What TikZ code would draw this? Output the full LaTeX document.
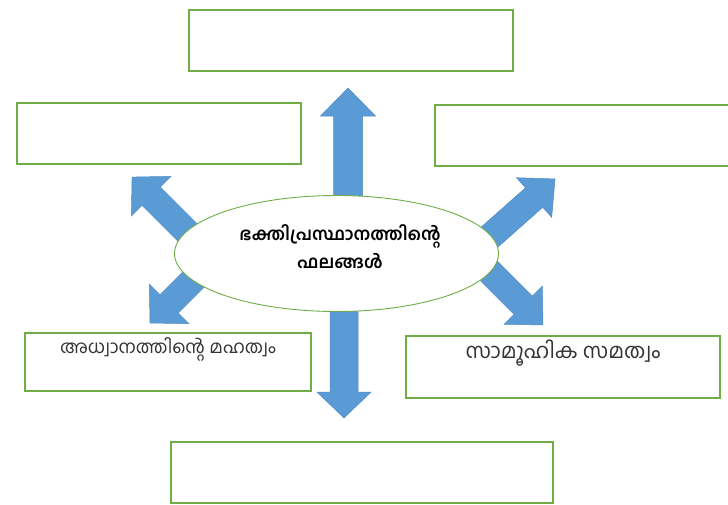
\documentclass[tikz,border=0pt]{standalone}
\usepackage{fontspec}
\newfontfamily\mlfont[Script=Malayalam]{Hind Kochi}
\begin{document}
\begin{tikzpicture}[x=1pt,y=-1pt,
  gbox/.style={draw=boxgreen, line width=1.6pt, fill=white},
  arrowstyle/.style={fill=arrowblue, draw=arrowedge, line width=0.5pt, line join=miter},
  lbl/.style={font=\mlfont\fontsize{18}{20}\selectfont, text=black!80}]
\definecolor{boxgreen}{HTML}{70AD47}
\definecolor{arrowblue}{HTML}{5B9BD5}
\definecolor{arrowedge}{HTML}{4F8BC4}
\useasboundingbox (0,0) rectangle (728,504);
\newcommand\blockarrow[8]{% x y angle length shaftw headw headl
  \begin{scope}[shift={(#1,#2)}, rotate=#3, y=1pt]
    \path[arrowstyle] (0,-#5/2) -- (#4-#7,-#5/2) -- (#4-#7,-#6/2) -- (#4,0)
      -- (#4-#7,#6/2) -- (#4-#7,#5/2) -- (0,#5/2) -- cycle;
  \end{scope}}
% boxes
\node[gbox, minimum width=324pt, minimum height=61pt, anchor=north west] (top) at (188,9) {};
\node[gbox, minimum width=284pt, minimum height=61pt, anchor=north west] (ul) at (16,102) {};
\node[gbox, minimum width=310pt, minimum height=61pt, anchor=north west] (ur) at (434,104) {};
\node[gbox, minimum width=286pt, minimum height=58pt, anchor=north west] (ll) at (24,332) {};
\node[gbox, minimum width=314pt, minimum height=62pt, anchor=north west] (lr) at (405,335) {};
\node[gbox, minimum width=382pt, minimum height=61pt, anchor=north west] (bot) at (170,441) {};
% arrows
\blockarrow{348}{220}{90}{132}{29}{55}{28}{}
\blockarrow{344}{290}{-90}{128}{28}{54}{26}{}
\blockarrow{195}{240}{135}{89}{26}{56}{27}{}
\blockarrow{200}{273}{225}{70.7}{26}{56}{27}{}
\blockarrow{484}{242}{41.6}{95}{26}{53}{28}{}
\blockarrow{485}{267}{-45}{82}{26}{54}{28}{}
% centre ellipse
\draw[draw=boxgreen, line width=0.9pt, fill=white] (336.5,253.5) ellipse [x radius=162, y radius=58];
\node[font=\mlfont\bfseries\fontsize{17.5}{28}\selectfont, align=center] (c) at (340,247)
  {ഭക്തിപ്രസ്ഥാനത്തിന്റെ\\ഫലങ്ങൾ};
% labels
\node[lbl] (t1) at (168,349) {അധ്വാനത്തിന്റെ മഹത്വം};
\node[lbl, font=\mlfont\fontsize{21}{24}\selectfont] (t2) at (563,353) {സാമൂഹിക സമത്വം};
\end{tikzpicture}
\end{document}
